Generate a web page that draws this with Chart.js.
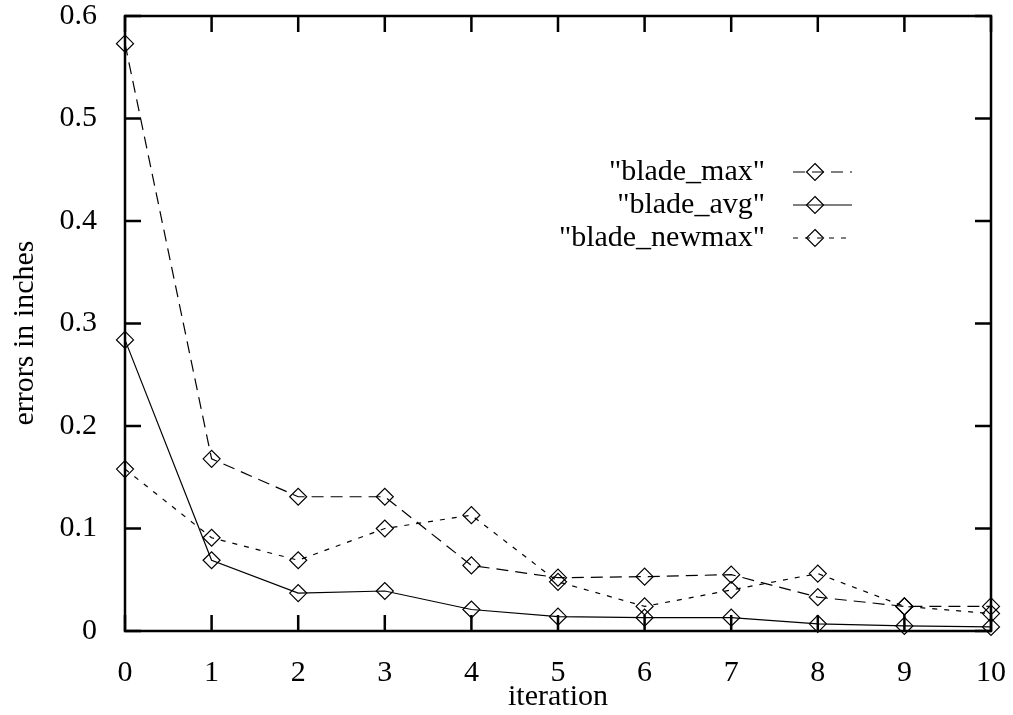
<!DOCTYPE html>
<html>
<head>
<meta charset="utf-8">
<script src="https://cdn.jsdelivr.net/npm/chart.js@4.4.1/dist/chart.umd.min.js"></script>
<style>
  html, body { margin: 0; padding: 0; background: #fff; }
  #wrap { width: 1013px; height: 715px; position: relative; }
</style>
</head>
<body>
<div id="wrap"><canvas id="c"></canvas></div>
<script>
const iterations = ['0','1','2','3','4','5','6','7','8','9','10'];
const bladeMax    = [0.573, 0.168, 0.131, 0.131, 0.064, 0.052, 0.053, 0.055, 0.033, 0.024, 0.024];
const bladeAvg    = [0.284, 0.069, 0.037, 0.039, 0.021, 0.014, 0.013, 0.013, 0.007, 0.005, 0.004];
const bladeNewmax = [0.158, 0.091, 0.069, 0.100, 0.113, 0.048, 0.024, 0.040, 0.056, 0.024, 0.017];
const yTickLabels = ['0','0.1','0.2','0.3','0.4','0.5','0.6'];
const seriesNames = ['"blade_max"', '"blade_avg"', '"blade_newmax"'];
const xTitle = 'iteration';
const yTitle = 'errors in inches';

const FONT = '"Liberation Serif", "DejaVu Serif", serif';
const dashes = [[12, 7], [], [5, 7]];

function ds(label, data, dash) {
  return {
    label, data,
    borderColor: '#000', borderWidth: 1.2, borderDash: dash,
    pointStyle: 'rectRot', pointRadius: 8.5, pointHoverRadius: 8.5,
    pointBorderColor: '#000', pointBackgroundColor: 'rgba(0,0,0,0)', pointBorderWidth: 1.2,
    tension: 0, fill: false, clip: false
  };
}

const framePlugin = {
  id: 'frame',
  beforeDatasetsDraw(chart) {
    const { ctx, chartArea: a, scales } = chart;
    ctx.save();
    ctx.strokeStyle = '#000';
    ctx.lineWidth = 2.5;
    ctx.lineCap = 'butt';
    ctx.strokeRect(a.left, a.top, a.right - a.left, a.bottom - a.top);
    const T = 16;
    ctx.beginPath();
    scales.x.ticks.forEach((t, i) => {
      const x = scales.x.getPixelForTick(i);
      ctx.moveTo(x, a.bottom); ctx.lineTo(x, a.bottom - T);
      ctx.moveTo(x, a.top); ctx.lineTo(x, a.top + T);
    });
    scales.y.ticks.forEach((t) => {
      const y = scales.y.getPixelForValue(t.value);
      ctx.moveTo(a.left, y); ctx.lineTo(a.left + T, y);
      ctx.moveTo(a.right, y); ctx.lineTo(a.right - T, y);
    });
    ctx.stroke();
    ctx.restore();
  },
  afterDraw(chart) {
    const { ctx, chartArea: a } = chart;
    ctx.save();
    ctx.fillStyle = '#000';
    ctx.strokeStyle = '#000';
    ctx.font = '30px ' + FONT;
    ctx.textAlign = 'center';
    ctx.textBaseline = 'middle';
    ctx.fillText(xTitle, (a.left + a.right) / 2, 697);
    ctx.save();
    ctx.translate(25, 333);
    ctx.rotate(-Math.PI / 2);
    ctx.fillText(yTitle, 0, 0);
    ctx.restore();
    const rows = [172, 205, 238];
    chart.data.datasets.forEach((d, i) => {
      const y = rows[i];
      ctx.textAlign = 'right';
      ctx.textBaseline = 'middle';
      ctx.fillText(seriesNames[i], 765, y);
      ctx.beginPath();
      ctx.lineWidth = 1.2;
      ctx.setLineDash(dashes[i]);
      ctx.moveTo(793, y); ctx.lineTo(852, y);
      ctx.stroke();
      ctx.setLineDash([]);
      const r = 8.5, cx = 815;
      ctx.beginPath();
      ctx.moveTo(cx, y - r); ctx.lineTo(cx + r, y); ctx.lineTo(cx, y + r); ctx.lineTo(cx - r, y); ctx.closePath();
      ctx.stroke();
    });
    ctx.restore();
  }
};

new Chart(document.getElementById('c'), {
  type: 'line',
  data: {
    labels: iterations,
    datasets: [
      ds(seriesNames[0], bladeMax, dashes[0]),
      ds(seriesNames[1], bladeAvg, dashes[1]),
      ds(seriesNames[2], bladeNewmax, dashes[2])
    ]
  },
  options: {
    responsive: true, maintainAspectRatio: false, animation: false,
    layout: { padding: { top: 16, right: 22, left: 0, bottom: 0 } },
    plugins: { legend: { display: false }, tooltip: { enabled: false } },
    events: [],
    scales: {
      x: {
        type: 'category', offset: false,
        grid: { display: false }, border: { display: false },
        ticks: { color: '#000', font: { family: FONT, size: 30 }, padding: 16, maxRotation: 0, autoSkip: false },
        afterFit(s) { s.height = 84; s.paddingLeft = 0; s.paddingRight = 0; }
      },
      y: {
        min: 0, max: 0.6,
        grid: { display: false }, border: { display: false },
        ticks: {
          stepSize: 0.1, color: '#000', font: { family: FONT, size: 30 }, padding: 20,
          callback: (v, i) => yTickLabels[i]
        },
        afterFit(s) { s.width = 125; s.paddingTop = 0; s.paddingBottom = 0; }
      }
    }
  },
  plugins: [framePlugin]
});
</script>
</body>
</html>
